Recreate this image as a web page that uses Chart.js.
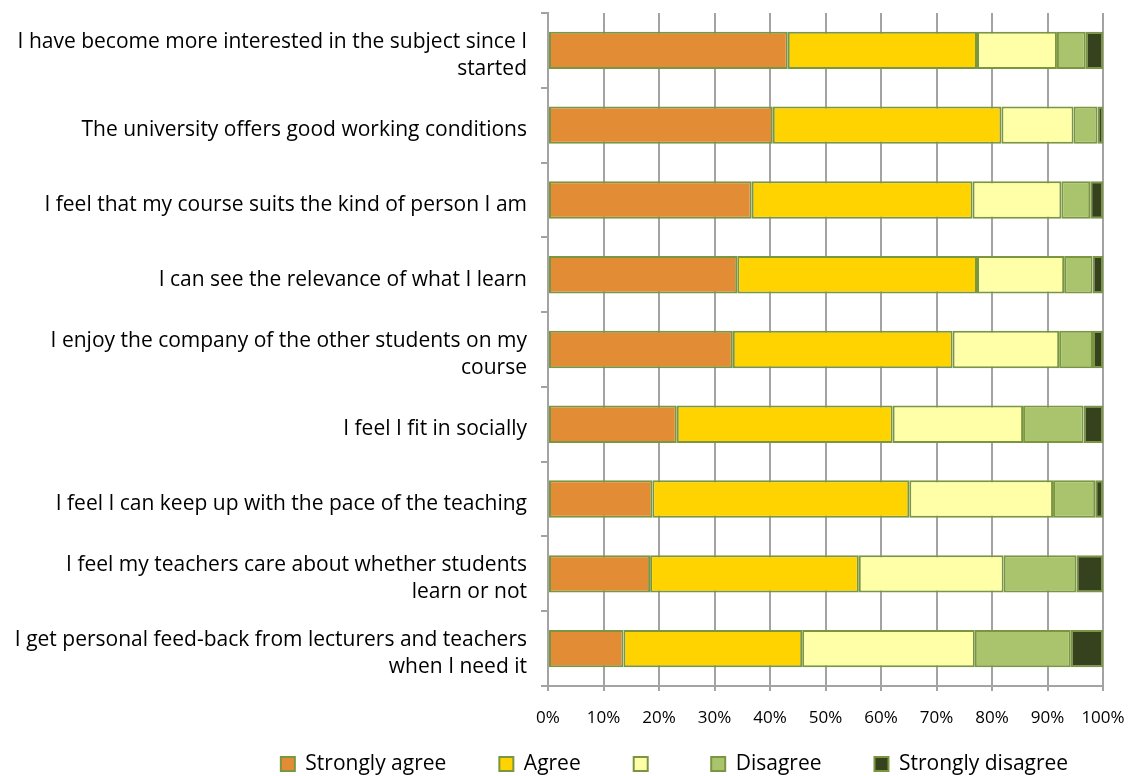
<!DOCTYPE html>
<html>
<head>
<meta charset="utf-8">
<script src="https://cdn.jsdelivr.net/npm/chart.js@4.4.1/dist/chart.umd.min.js"></script>
<style>
  html, body { margin: 0; padding: 0; background: #ffffff; }
  #wrap { width: 1133px; height: 776px; position: relative; }
</style>
</head>
<body>
<div id="wrap"><canvas id="c" width="1133" height="776"></canvas></div>
<script>
// ---- Data ----
const categories = [
  ["I have become more interested in the subject since I", "started"],
  "The university offers good working conditions",
  "I feel that my course suits the kind of person I am",
  "I can see the relevance of what I learn",
  ["I enjoy the company of the other students on my", "course"],
  "I feel I fit in socially",
  "I feel I can keep up with the pace of the teaching",
  ["I feel my teachers care about whether students", "learn or not"],
  ["I get personal feed-back from lecturers and teachers", "when I need it"]
];
const seriesNames = ["Strongly agree", "Agree", "", "Disagree", "Strongly disagree"];
const stronglyAgree    = [43.2, 40.5, 36.7, 34.1, 33.3, 23.2, 18.8, 18.4, 13.6];
const agree            = [34.1, 41.2, 39.8, 43.2, 39.6, 38.9, 46.3, 37.6, 32.2];
const neutral          = [14.4, 13.0, 16.0, 15.7, 19.2, 23.5, 25.9, 26.1, 31.1];
const disagree         = [5.2, 4.3, 5.2, 5.1, 6.1, 10.9, 7.6, 13.1, 17.3];
const stronglyDisagree = [3.1, 1.0, 2.3, 1.9, 1.8, 3.5, 1.4, 4.8, 5.8];
const xTicks = [0, 10, 20, 30, 40, 50, 60, 70, 80, 90, 100];

// ---- Styles ----
const fills = ["#E28C35", "#FFD300", "#FFFFA8", "#A9C46C", "#36421E"];
const edge = "#7A9641";
const gridGray = "#A3A3A3";
const FONT = "'Open Sans', 'Noto Sans', 'Liberation Sans', sans-serif";

const seriesValues = [stronglyAgree, agree, neutral, disagree, stronglyDisagree];
const datasets = seriesValues.map((vals, i) => ({
  label: seriesNames[i],
  data: vals,
  backgroundColor: fills[i],
  borderColor: edge,
  borderWidth: 2,
  borderSkipped: false,
  barPercentage: 0.5,
  categoryPercentage: 1.0
}));

// place the legend like the reference (shifted right, near the bottom edge)
const legendPlace = {
  id: 'legendPlace',
  afterLayout(chart) {
    const lg = chart.legend;
    if (!lg) return;
    const dx = 123;
    lg.left += dx; lg.right += dx;
    const pad = lg.options.labels.padding;
    const fs = lg.options.labels.font.size;
    lg.top = 764 - pad - fs / 2;
    lg.bottom = chart.height;
    lg.height = lg.bottom - lg.top;
    lg.width = lg.right - lg.left;
  }
};

new Chart(document.getElementById('c'), {
  type: 'bar',
  data: { labels: categories, datasets },
  plugins: [legendPlace],
  options: {
    indexAxis: 'y',
    responsive: false,
    animation: false,
    devicePixelRatio: 1,
    layout: { padding: { top: 13, right: 30, left: 0, bottom: 0 } },
    plugins: {
      legend: {
        position: 'bottom',
        maxHeight: 30,
        labels: {
          boxWidth: 14,
          boxHeight: 14,
          padding: 53,
          color: '#000',
          font: { family: FONT, size: 21 }
        }
      },
      tooltip: { enabled: false },
      title: { display: false }
    },
    scales: {
      x: {
        stacked: true,
        min: 0,
        max: 100,
        afterBuildTicks: (s) => { s.ticks = xTicks.map(v => ({ value: v })); },
        afterFit: (s) => { s.height = 60; s.paddingLeft = 0; s.paddingRight = 0; },
        ticks: {
          callback: (v) => v + '%',
          color: '#000',
          padding: 17,
          maxRotation: 0,
          font: { family: FONT, size: 17 }
        },
        grid: {
          color: gridGray,
          lineWidth: 2,
          drawTicks: true,
          tickLength: 5,
          tickColor: gridGray
        },
        border: { display: true, color: gridGray, width: 2 }
      },
      y: {
        stacked: true,
        afterFit: (s) => { s.width = 548; s.paddingTop = 0; s.paddingBottom = 0; },
        ticks: {
          color: '#000',
          padding: 14,
          labelOffset: 5,
          autoSkip: false,
          font: { family: FONT, size: 21, lineHeight: 1.3 }
        },
        grid: {
          offset: true,
          drawOnChartArea: false,
          drawTicks: true,
          tickLength: 7,
          color: gridGray,
          lineWidth: 2
        },
        border: { display: true, color: gridGray, width: 2 }
      }
    }
  }
});
</script>
</body>
</html>
